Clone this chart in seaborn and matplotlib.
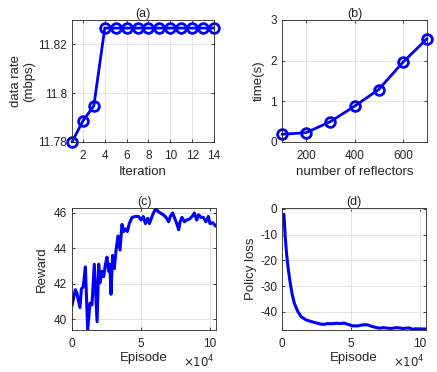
import numpy as np
import pandas as pd
import matplotlib
matplotlib.use("Agg")
import matplotlib.pyplot as plt
import seaborn as sns

# ---------------- data ----------------
iterations = [1, 2, 3, 4, 5, 6, 7, 8, 9, 10, 11, 12, 13, 14]
data_rate = [11.780, 11.7886, 11.7948, 11.8265, 11.8265, 11.8265, 11.8265,
             11.8265, 11.8265, 11.8265, 11.8265, 11.8265, 11.8265, 11.8265]

reflectors = [100, 200, 300, 400, 500, 600, 700]
time_s = [0.19, 0.23, 0.50, 0.88, 1.29, 1.96, 2.54]

reward_episode = [0, 2400, 3400, 5800, 6800, 8200, 9700, 11400, 13100, 14500,
                  16200, 18200, 19400, 20300, 21800, 23000, 24200, 25400,
                  26600, 27500, 28300, 29500, 30700, 32000, 33400, 34900,
                  36300, 37500, 38700, 40200, 41600, 43600, 46000, 48400,
                  50100, 51800, 53300, 55000, 56200, 58100, 59800, 61000,
                  62200, 64200, 66300, 68300, 70200, 71400, 73100, 75100,
                  76300, 77500, 78500, 79900, 81600, 83300, 85200, 87200,
                  88900, 90600, 92000, 93700, 95400, 97300, 99000, 100200,
                  102200, 104500]
reward = [40.75, 41.66, 41.5, 40.65, 41.7, 41.83, 42.95, 39.4, 40.9, 40.8,
          43.1, 39.85, 43.1, 42.05, 42.7, 42.4, 43.05, 43.5, 42.7, 43.1,
          41.4, 43.6, 42.85, 43.9, 44.7, 43.9, 45.35, 44.95, 45.1, 44.95,
          45.4, 45.75, 45.8, 45.8, 45.6, 45.8, 45.4, 45.7, 45.4, 45.8,
          46.1, 46.3, 46.1, 46.0, 45.9, 45.75, 45.5, 45.8, 46.0, 45.6,
          45.35, 45.05, 45.5, 45.75, 45.5, 45.6, 45.65, 45.8, 46.0, 45.6,
          45.9, 45.75, 45.75, 45.5, 45.8, 45.4, 45.45, 45.25]

loss_episode = [1400, 2400, 3400, 4600, 5800, 7200, 8900, 11400, 13800,
                17400, 21000, 25800, 28000, 30700, 33000, 35500, 39100,
                42800, 45000, 47600, 51200, 54800, 58500, 62100, 65700,
                68000, 70500, 73000, 75400, 78000, 80200, 83000, 85000,
                87500, 89900, 92000, 94700, 97000, 99500, 103900]
policy_loss = [-2.1, -11.4, -17.9, -23.7, -28.2, -32.7, -36.6, -39.8, -41.8,
               -43.1, -43.7, -44.4, -44.7, -44.8, -44.5, -44.6, -44.4,
               -44.5, -44.3, -44.8, -45.4, -45.4, -45.0, -45.0, -45.7,
               -46.0, -46.3, -46.1, -46.2, -46.4, -46.3, -46.1, -46.2,
               -46.4, -46.3, -46.2, -46.7, -46.5, -46.6, -46.6]

# ---------------- style ----------------
sns.set_theme(style="whitegrid")
plt.rcParams["font.family"] = ["Liberation Sans", "DejaVu Sans"]
plt.rcParams.update({
    "axes.unicode_minus": False,
    "axes.edgecolor": "#262626",
    "axes.linewidth": 0.6,
    "grid.color": "#e0e0e0",
    "grid.linewidth": 0.6,
    "xtick.color": "#262626",
    "ytick.color": "#262626",
    "xtick.direction": "in",
    "ytick.direction": "in",
    "xtick.major.size": 2.5,
    "ytick.major.size": 2.5,
    "xtick.major.width": 0.6,
    "ytick.major.width": 0.6,
    "xtick.major.pad": 5.5,
    "ytick.major.pad": 3.5,
    "xtick.labelsize": 8.5,
    "ytick.labelsize": 8.5,
    "axes.labelsize": 9.5,
    "axes.titlesize": 9,
    "axes.labelcolor": "#262626",
})

BLUE = "#0000ff"
fig = plt.figure(figsize=(4.37, 3.72), dpi=100)
fig.patch.set_facecolor("white")

def make_ax(left, right, top, bottom):
    W, H = 437.0, 372.0
    return fig.add_axes([left / W, 1 - bottom / H, (right - left) / W, (bottom - top) / H])

ax_a = make_ax(72, 214, 20, 142)
ax_b = make_ax(282, 427, 20, 142)
ax_c = make_ax(72, 216, 208, 330)
ax_d = make_ax(282, 426, 208, 330)

for ax in (ax_a, ax_b, ax_c, ax_d):
    ax.set_facecolor("white")
    for s in ax.spines.values():
        s.set_visible(True)
        s.set_color("#262626")
        s.set_linewidth(0.6)
    ax.tick_params(which="both", top=True, right=True, direction="in",
                   bottom=True, left=True)

# (a)
df_a = pd.DataFrame({"it": iterations, "rate": data_rate})
sns.lineplot(data=df_a, x="it", y="rate", ax=ax_a, color=BLUE, linewidth=2.0,
             marker="o", markersize=7, markerfacecolor="none",
             markeredgecolor=BLUE, markeredgewidth=2.0)
ax_a.set_xlim(1, 14)
ax_a.set_ylim(11.78, 11.8298)
ax_a.set_xticks([2, 4, 6, 8, 10, 12, 14])
ax_a.set_yticks([11.78, 11.80, 11.82])
ax_a.set_yticklabels(["11.78", "11.8", "11.82"])
ax_a.set_xlabel("Iteration", labelpad=3)
ax_a.set_ylabel("data rate\n(mbps)", labelpad=2)
ax_a.set_title("(a)", pad=2)
for p in ax_a.lines:
    p.set_clip_on(False)

# (b)
df_b = pd.DataFrame({"n": reflectors, "t": time_s})
sns.lineplot(data=df_b, x="n", y="t", ax=ax_b, color=BLUE, linewidth=2.0,
             marker="o", markersize=7, markerfacecolor="none",
             markeredgecolor=BLUE, markeredgewidth=2.0)
ax_b.set_xlim(100, 700)
ax_b.set_ylim(0, 3)
ax_b.set_xticks([200, 400, 600])
ax_b.set_yticks([0, 1, 2, 3])
ax_b.set_xlabel("number of reflectors", labelpad=3)
ax_b.set_ylabel("time(s)", labelpad=4)
ax_b.set_title("(b)", pad=2)
for p in ax_b.lines:
    p.set_clip_on(False)

# (c)
df_c = pd.DataFrame({"ep": np.array(reward_episode) / 1e4, "r": reward})
sns.lineplot(data=df_c, x="ep", y="r", ax=ax_c, color=BLUE, linewidth=2.2)
ax_c.set_xlim(0, 10.46)
ax_c.set_ylim(39.38, 46.28)
ax_c.set_xticks([0, 5, 10])
ax_c.set_yticks([40, 42, 44, 46])
ax_c.set_xlabel("Episode", labelpad=2)
ax_c.set_ylabel("Reward", labelpad=4)
ax_c.set_title("(c)", pad=2)
ax_c.text(0.99, -0.265, r"$\times10^4$", transform=ax_c.transAxes,
          ha="right", va="center", fontsize=8.5, color="#262626")

# (d)
df_d = pd.DataFrame({"ep": np.array(loss_episode) / 1e4, "l": policy_loss})
sns.lineplot(data=df_d, x="ep", y="l", ax=ax_d, color=BLUE, linewidth=2.2)
ax_d.set_xlim(0, 10.43)
ax_d.set_ylim(-47.0, 0.3)
ax_d.set_xticks([0, 5, 10])
ax_d.set_yticks([-40, -30, -20, -10, 0])
ax_d.set_xlabel("Episode", labelpad=2)
ax_d.set_ylabel("Policy loss", labelpad=2)
ax_d.set_title("(d)", pad=2)
ax_d.text(0.99, -0.265, r"$\times10^4$", transform=ax_d.transAxes,
          ha="right", va="center", fontsize=8.5, color="#262626")

fig.savefig("out.png", dpi=100, facecolor="white")
